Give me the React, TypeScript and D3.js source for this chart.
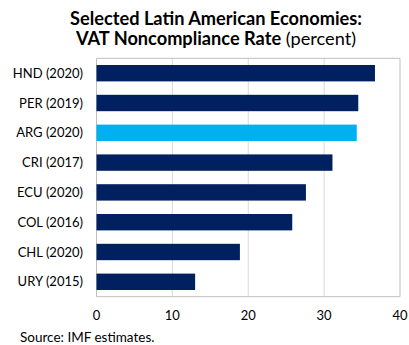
import React from "react";
import * as d3 from "d3";

const categories = ["HND (2020)", "PER (2019)", "ARG (2020)", "CRI (2017)", "ECU (2020)", "COL (2016)", "CHL (2020)", "URY (2015)"];
const values = [36.7, 34.5, 34.3, 31.1, 27.6, 25.8, 18.9, 13.0];
const highlight = ["ARG (2020)"];
const xTicks = [0, 10, 20, 30, 40];

const W = 409, H = 345;
const left = 96.5, right = 400, top = 58.3, bottom = 296.7;
const font = "Lato, 'Open Sans', sans-serif";

export default function App() {
  const x = d3.scaleLinear().domain([0, 40]).range([left, right]);
  const y = d3.scaleBand().domain(categories).range([top, bottom]).paddingInner(0.45).paddingOuter(0.225);
  return (
    <svg width={W} height={H} style={{ position: "absolute", left: 0, top: 0, background: "#fff" }} fontFamily={font}>
      <text x={216} y={25} textAnchor="middle" fontSize={18.2} fontWeight="bold" fill="#000">Selected Latin American Economies:</text>
      <text x={216} y={45} textAnchor="middle" fontSize={18.2} fill="#000">
        <tspan fontWeight="bold">VAT Noncompliance Rate</tspan> (percent)
      </text>
      {xTicks.map((t) => (
        <line key={"g" + t} x1={x(t)} x2={x(t)} y1={top} y2={bottom} stroke={t === 0 || t === 40 ? "#bfbfbf" : "#d9d9d9"} strokeWidth={1} />
      ))}
      <line x1={left} x2={right} y1={top} y2={top} stroke="#bfbfbf" />
      <line x1={left} x2={right} y1={bottom} y2={bottom} stroke="#bfbfbf" />
      {categories.map((c, i) => (
        <rect key={c} x={x(0)} y={y(c)} width={x(values[i]) - x(0)} height={y.bandwidth()} fill={highlight.includes(c) ? "#00b0f0" : "#002060"} />
      ))}
      {categories.map((c) => (
        <text key={"l" + c} x={83} y={(y(c) as number) + y.bandwidth() / 2} dy="0.35em" textAnchor="end" fontSize={13} fill="#000">{c}</text>
      ))}
      {xTicks.map((t) => (
        <text key={"t" + t} x={x(t)} y={320} textAnchor="middle" fontSize={13} fill="#000">{t}</text>
      ))}
      <text x={20} y={342} fontSize={13.5} fill="#000">Source: IMF estimates.</text>
    </svg>
  );
}
